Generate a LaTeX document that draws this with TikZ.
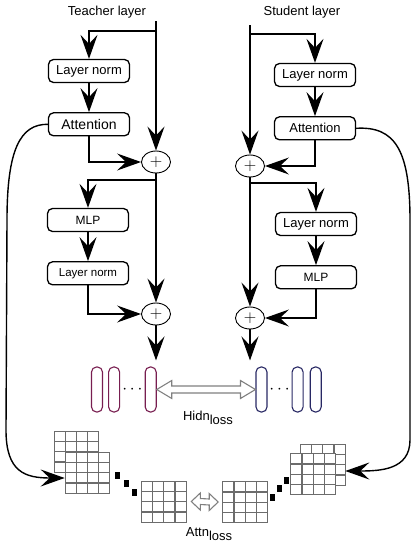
\documentclass[tikz,border=0pt]{standalone}
\usepackage{fontspec}
\setmainfont{Liberation Sans}
\usetikzlibrary{matrix,positioning,calc}
\usetikzlibrary{arrows.meta}
\usetikzlibrary{shapes.geometric}

\definecolor{hidT}{RGB}{120,30,80}
\definecolor{hidS}{RGB}{40,40,100}

\begin{document}
\begin{tikzpicture}[x=1pt,y=-1pt,font=\fontsize{13}{15}\selectfont,
   blk/.style={draw,rounded corners=5pt,line width=1.3pt,minimum width=81pt,minimum height=23pt,inner sep=1pt},
   add/.style={draw,ellipse,line width=0.9pt,minimum width=29pt,minimum height=22pt,inner sep=0pt,
   font=\fontsize{17}{17}\selectfont},
   arr/.style={line width=1.4pt,-{Stealth[length=24pt,width=17pt,inset=9pt]}},
   hvec/.style={draw=#1,rounded corners=5pt,line width=1.1pt,minimum width=11pt,minimum height=45pt,inner sep=0pt},
   hol/.style={draw=gray,line width=1.1pt,fill=white,line join=miter},
   mgrid/.style={matrix of nodes,nodes in empty cells,column sep=-\pgflinewidth,row sep=-\pgflinewidth,
   cells={nodes={draw=gray!85!black,fill=white,line width=0.6pt,minimum width=11pt,minimum height=10pt,inner sep=0pt}},
   inner sep=0pt},
   node distance=29pt]

 \useasboundingbox (0,0) rectangle (418,550);

 %teacher layer
 \node (t_title) at (107,12) {Teacher layer};
 \coordinate (t_in) at (156,21);
 \coordinate (t_fork1) at (156,31);
 \coordinate (t_fork2) at (156,180);
 \node[blk] (t_ln1) at (89,71) {Layer norm};
 \node[blk,below=of t_ln1,font=\fontsize{14}{16}\selectfont] (t_att) {Attention};
 \node[add] (t_add1) at (156,162) {$+$};
 \node[blk,font=\fontsize{12}{14}\selectfont] (t_mlp) at (88,220) {MLP};
 \node[blk,below=of t_mlp,font=\fontsize{11.5}{13}\selectfont] (t_ln2) {Layer norm};
 \node[add] (t_add2) at (156,314) {$+$};

 \draw[arr] (t_in) -- (t_add1);
 \draw[arr] (t_fork1) -| (t_ln1);
 \draw[arr] (t_ln1) -- (t_att);
 \draw[arr] (t_att) |- (t_add1);
 \draw[arr] (t_add1) -- (t_add2);
 \draw[arr] (t_fork2) -| (t_mlp);
 \draw[arr] (t_mlp) -- (t_ln2);
 \draw[arr] (t_ln2) |- (t_add2);

 %student layer
 \node (s_title) at (302,12) {Student layer};
 \coordinate (s_in) at (250,25);
 \coordinate (s_fork1) at (250,34);
 \coordinate (s_fork2) at (250,183);
 \node[blk] (s_ln1) at (315,75) {Layer norm};
 \node[blk,below=of s_ln1] (s_att) {Attention};
 \node[add] (s_add1) at (250,166) {$+$};
 \node[blk] (s_ln2) at (316,224) {Layer norm};
 \node[blk,below=of s_ln2,font=\fontsize{12}{14}\selectfont] (s_mlp) {MLP};
 \node[add] (s_add2) at (250,318) {$+$};

 \draw[arr] (s_in) -- (s_add1);
 \draw[arr] (s_fork1) -| (s_ln1);
 \draw[arr] (s_ln1) -- (s_att);
 \draw[arr] (s_att) |- (s_add1);
 \draw[arr] (s_add1) -- (s_add2);
 \draw[arr] (s_fork2) -| (s_ln2);
 \draw[arr] (s_ln2) -- (s_mlp);
 \draw[arr] (s_mlp) |- (s_add2);

 %hidden states
 \node[hvec=hidT] (t_h1) at (97,389.5) {};
 \node[hvec=hidT,right=5pt of t_h1] (t_h2) {};
 \node[hvec=hidT,right=24.5pt of t_h2] (t_h3) {};
 \node[font=\fontsize{19}{19}\selectfont] (t_hdots) at ($(t_h2)!0.5!(t_h3)$) {$\cdots$};

 \node[hvec=hidS] (s_h1) at (261.5,389.5) {};
 \node[hvec=hidS,right=24pt of s_h1] (s_h2) {};
 \node[hvec=hidS,right=6pt of s_h2] (s_h3) {};
 \node[font=\fontsize{19}{19}\selectfont] (s_hdots) at ($(s_h1)!0.5!(s_h2)$) {$\cdots$};

 \draw[arr,shorten >=6pt] (t_add2) -- (t_add2 |- t_h3.north);
 \draw[arr,shorten >=6pt] (s_add2) -- (s_add2 |- s_h1.north);
 \draw[hol] (t_h3.east) -- ++(15,-9) -- ++(0,5.5) -- ($(s_h1.west)+(-15,-3.5)$) -- ++(0,-5.5)
  -- (s_h1.west) -- ++(-15,9) -- ++(0,-5.5) -- ($(t_h3.east)+(15,3.5)$) -- ++(0,5.5) -- cycle;
 \node (h_loss) at (208,418) {Hidn\raisebox{-4pt}{loss}};

 %attention maps
 \matrix[mgrid] (t_ga) at (76.5,451.5) {&&&\\&&&\\&&&\\&&&\\};
 \matrix[mgrid] (t_gb) at (87.5,472.5) {&&&\\&&&\\&&&\\&&&\\};
 \matrix[mgrid] (t_gc) at (163.5,501.5) {&&&\\&&&\\&&&\\&&&\\};
 \matrix[mgrid] (s_gc) at (245,502) {&&&\\&&&\\&&&\\&&&\\};
 \matrix[mgrid] (s_ga) at (322.5,464.5) {&&&\\&&&\\&&&\\&&&\\};
 \matrix[mgrid] (s_gb) at (313,474) {&&&\\&&&\\&&&\\&&&\\};

 \foreach \x/\y in {117/475,126/483,134/492,272/497,279/488,286/480}
  \fill (\x-2.5,\y-3.5) rectangle ++(5,7);

 \draw[hol] ([xshift=5pt]t_gc.east) -- ++(9,-8.5) -- ++(0,5.5) -- ($(s_gc.west)+(-13,-3)$) -- ++(0,-5.5)
  -- ([xshift=-4pt]s_gc.west) -- ++(-9,8.5) -- ++(0,-5.5) -- ($(t_gc.east)+(14,3)$) -- ++(0,5.5) -- cycle;
 \node (a_loss) at (209,534) {Attn\raisebox{-4pt}{loss}};

 %attention to maps
 \draw[arr] (t_att.west) .. controls (20,124) and (7,150) .. (7,220) -- (6,430)
  .. controls (6,472) and (25,478) .. ([yshift=-5.5pt]t_gb.west);
 \draw[arr] (s_att.east) .. controls (395,126) and (410,150) .. (410,220) -- (410,440)
  .. controls (410,470) and (380,471) .. ([yshift=-6.5pt]s_ga.east);

\end{tikzpicture}
\end{document}
